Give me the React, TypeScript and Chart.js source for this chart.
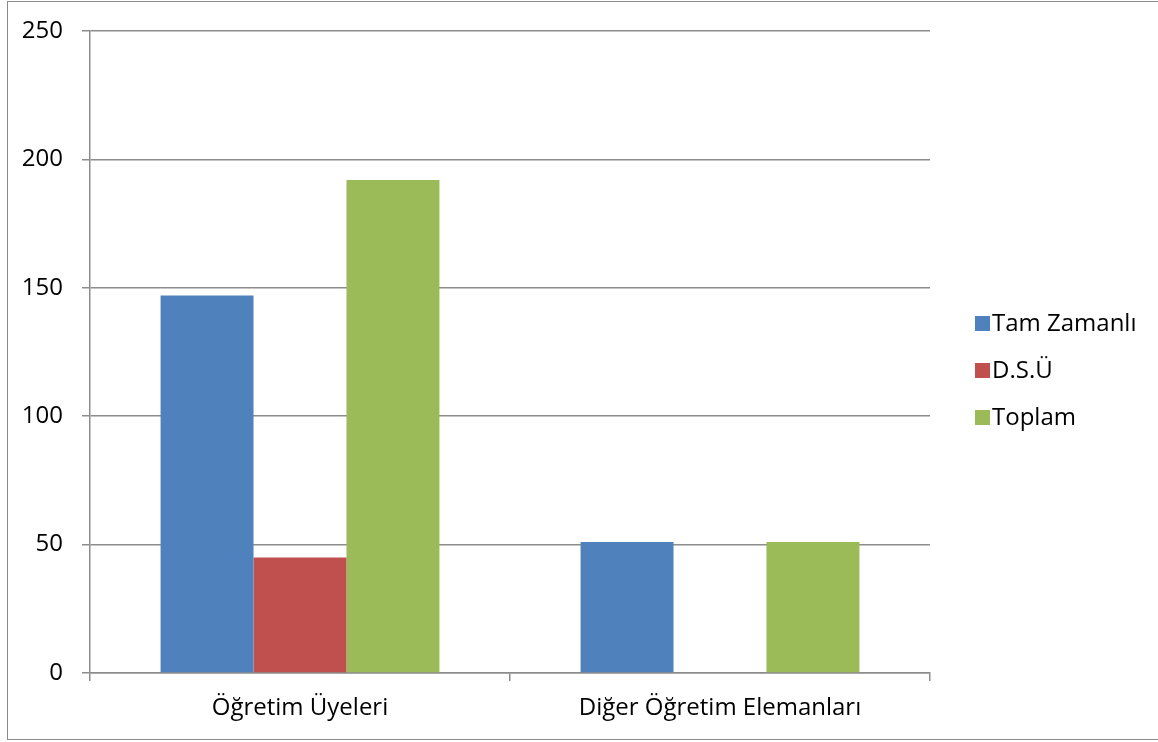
import React, { useEffect, useRef } from "react";
import { Chart, registerables } from "chart.js";

Chart.register(...registerables);

const categories = ["Öğretim Üyeleri", "Diğer Öğretim Elemanları"];
const seriesNames = ["Tam Zamanlı", "D.S.Ü", "Toplam"];
const tamZamanli = [147, 51];
const dsu = [45, 0];
const toplam = [192, 51];
const seriesColors = ["#4F81BD", "#C0504D", "#9BBB59"];

const FONT = "'Open Sans', sans-serif";
const GRID = "#8c8c8c";

const legendPlugin = {
  id: "customLegend",
  afterDraw(chart: any) {
    const ctx = chart.ctx;
    const ds = chart.data.datasets;
    const x = 967;
    const yStart = 321;
    const step = 47;
    ctx.save();
    ctx.font = `24px ${FONT}`;
    ctx.textBaseline = "middle";
    ctx.textAlign = "left";
    ds.forEach((d: any, i: number) => {
      const cy = yStart + i * step;
      ctx.fillStyle = d.backgroundColor;
      ctx.fillRect(x, cy - 7, 15, 15);
      ctx.fillStyle = "#000";
      ctx.fillText(d.label, x + 17, cy + 1);
    });
    ctx.restore();
  },
};

export default function App() {
  const ref = useRef<HTMLCanvasElement>(null);
  useEffect(() => {
    if (!ref.current) return;
    const values = [tamZamanli, dsu, toplam];
    const chart = new Chart(ref.current, {
      type: "bar",
      data: {
        labels: categories,
        datasets: seriesNames.map((name, i) => ({
          label: name,
          data: values[i],
          backgroundColor: seriesColors[i],
          borderWidth: 0,
          categoryPercentage: 0.664,
          barPercentage: 1,
        })),
      },
      options: {
        responsive: false,
        animation: false,
        devicePixelRatio: 1,
        layout: { padding: { left: 0, right: 228, top: 29, bottom: 0 } },
        plugins: {
          legend: { display: false },
          tooltip: { enabled: false },
        },
        scales: {
          x: {
            grid: {
              offset: true,
              drawOnChartArea: false,
              drawTicks: true,
              tickLength: 8,
              color: GRID,
              lineWidth: 1.5,
            },
            border: { display: true, color: GRID, width: 1.5 },
            ticks: {
              font: { family: FONT, size: 24 },
              color: "#000",
              padding: 13,
              maxRotation: 0,
            },
            afterFit(scale: any) {
              scale.height = 66;
            },
          },
          y: {
            min: 0,
            max: 250,
            ticks: {
              stepSize: 50,
              font: { family: FONT, size: 24 },
              color: "#000",
              padding: 19,
            },
            grid: {
              color: GRID,
              lineWidth: 1.5,
              tickLength: 8,
              drawTicks: true,
            },
            border: { display: true, color: GRID, width: 1.5 },
            afterFit(scale: any) {
              scale.width = 82;
              scale.paddingTop = 0;
              scale.paddingBottom = 0;
            },
          },
        },
      },
      plugins: [legendPlugin],
    });
    return () => chart.destroy();
  }, []);

  return (
    <div
      style={{
        position: "absolute",
        left: 7,
        top: 1,
        width: 1160,
        height: 739,
        border: "1px solid #8a8a8a",
        boxSizing: "border-box",
        background: "#fff",
      }}
    >
      <canvas ref={ref} width={1150} height={737} style={{ display: "block" }} />
    </div>
  );
}
